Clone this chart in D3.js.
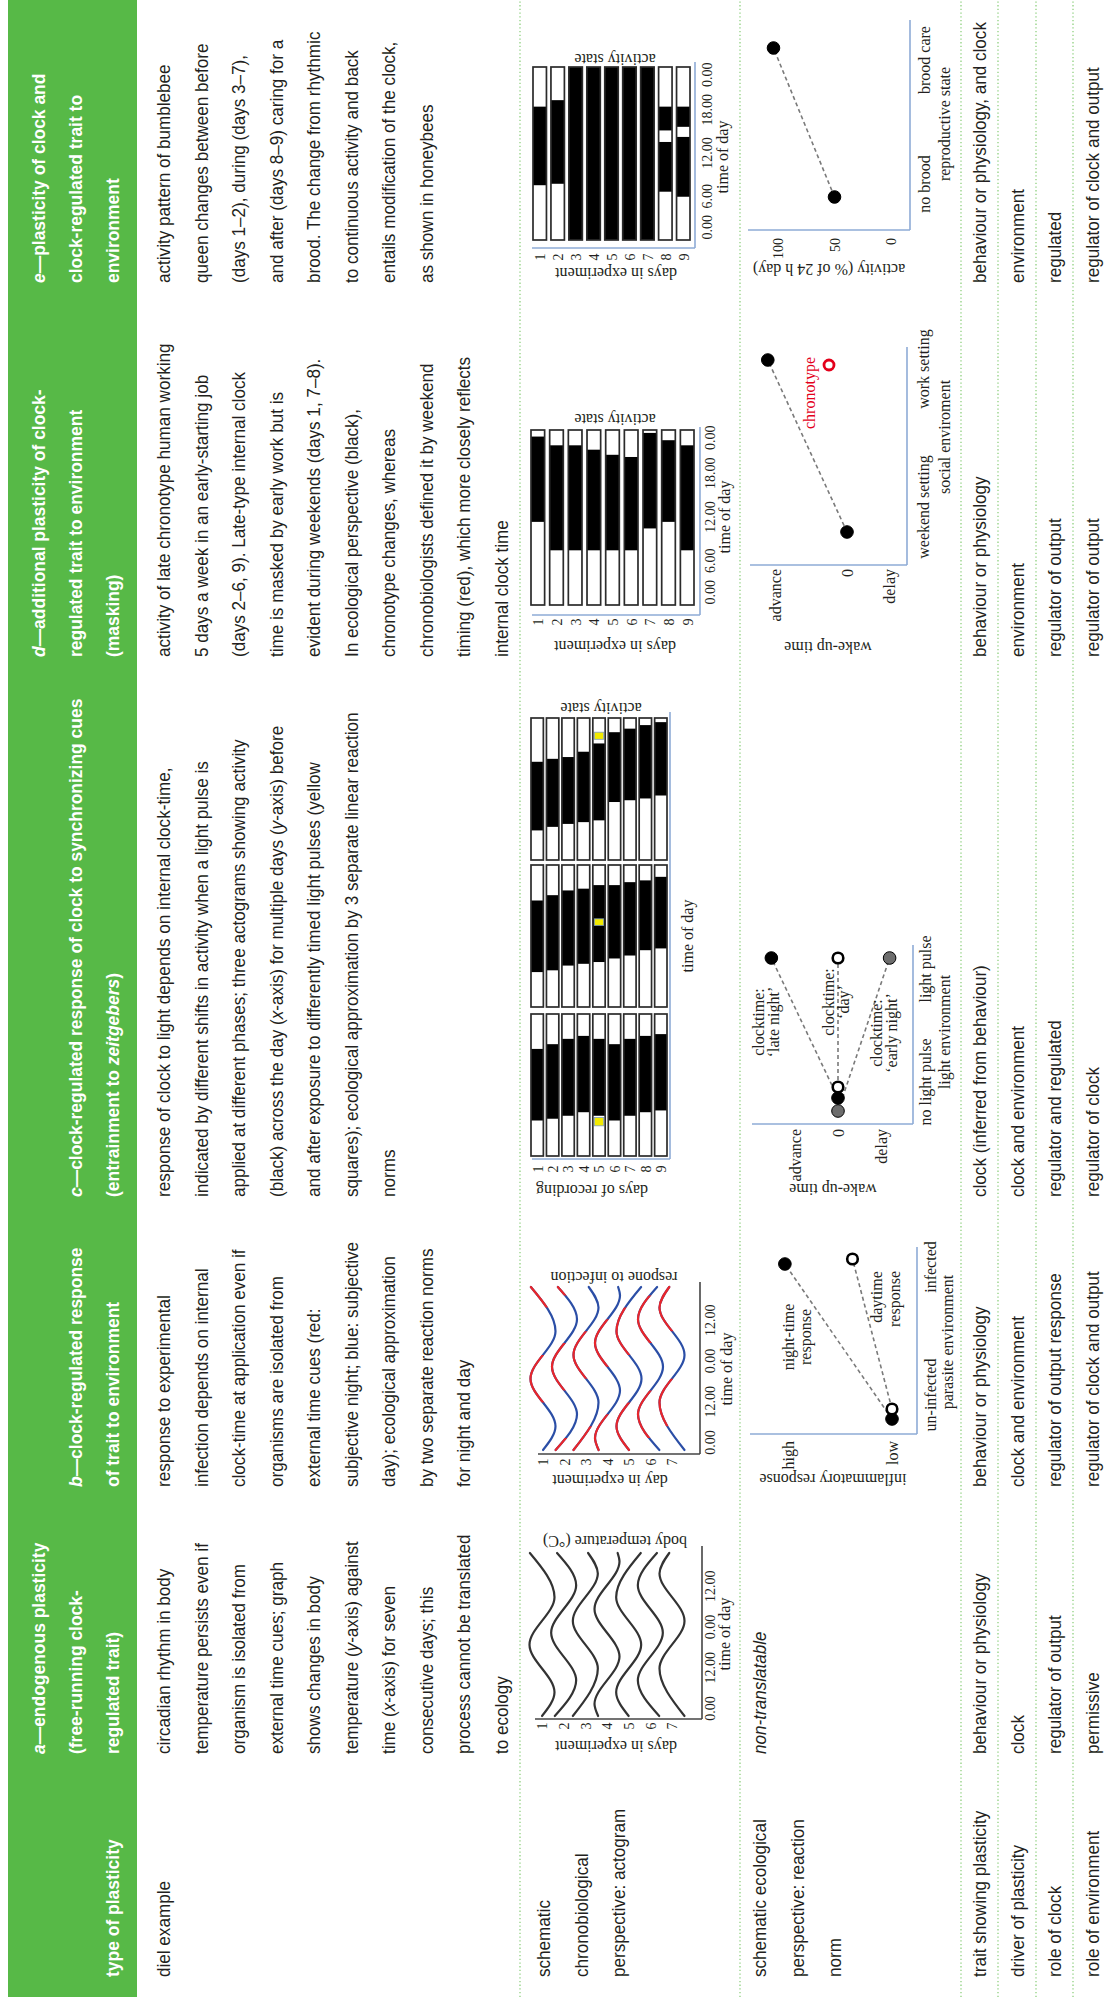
<!DOCTYPE html>
<html>
<head>
<meta charset="utf-8">
<script src="https://cdn.jsdelivr.net/npm/d3@7"></script>
<style>
  body { margin: 0; background: #fff; }
  svg { display: block; }
  .tx { font-family: "Liberation Sans", Arial, sans-serif; font-size: 18px; fill: #231f20; }
  .hd { font-family: "Liberation Sans", Arial, sans-serif; font-size: 18px; font-weight: bold; fill: #fff; }
  .ch text { font-family: "Liberation Serif", serif; font-size: 16px; fill: #231f20; }
</style>
</head>
<body>
<div id="chart"></div>
<script>
// ---- table text ----
var heads = [
  ['', '', 'type of plasticity'],
  ['*a*—endogenous plasticity', '(free-running clock-', 'regulated trait)'],
  ['', '*b*—clock-regulated response', 'of trait to environment'],
  ['', '*c*—clock-regulated response of clock to synchronizing cues', '(entrainment to *zeitgebers*)'],
  ['*d*—additional plasticity of clock-', 'regulated trait to environment', '(masking)'],
  ['*e*—plasticity of clock and', 'clock-regulated trait to', 'environment']
];
var dielText = [
  ['diel example'],
  ['circadian rhythm in body', 'temperature persists even if', 'organism is isolated from', 'external time cues; graph',
   'shows changes in body', 'temperature (*y*-axis) against', 'time (*x*-axis) for seven', 'consecutive days; this',
   'process cannot be translated', 'to ecology'],
  ['response to experimental', 'infection depends on internal', 'clock-time at application even if',
   'organisms are isolated from', 'external time cues (red:', 'subjective night; blue: subjective',
   'day); ecological approximation', 'by two separate reaction norms', 'for night and day'],
  ['response of clock to light depends on internal clock-time,',
   'indicated by different shifts in activity when a light pulse is',
   'applied at different phases; three actograms showing activity',
   '(black) across the day (*x*-axis) for multiple days (*y*-axis) before',
   'and after exposure to differently timed light pulses (yellow',
   'squares); ecological approximation by 3 separate linear reaction', 'norms'],
  ['activity of late chronotype human working', '5 days a week in an early-starting job',
   '(days 2–6, 9). Late-type internal clock', 'time is masked by early work but is',
   'evident during weekends (days 1, 7–8).', 'In ecological perspective (black),',
   'chronotype changes, whereas', 'chronobiologists defined it by weekend',
   'timing (red), which more closely reflects', 'internal clock time'],
  ['activity pattern of bumblebee', 'queen changes between before', '(days 1–2), during (days 3–7),',
   'and after (days 8–9) caring for a', 'brood. The change from rhythmic', 'to continuous activity and back',
   'entails modification of the clock,', 'as shown in honeybees']
];
var actoLabel = ['schematic', 'chronobiological', 'perspective: actogram'];
var normLabel = ['schematic ecological', 'perspective: reaction', 'norm'];
var normA = '*non-translatable*';
var traitRows = [
  ['trait showing plasticity', 'behaviour or physiology', 'behaviour or physiology', 'clock (inferred from behaviour)', 'behaviour or physiology', 'behaviour or physiology, and clock'],
  ['driver of plasticity', 'clock', 'clock and environment', 'clock and environment', 'environment', 'environment'],
  ['role of clock', 'regulator of output', 'regulator of output response', 'regulator and regulated', 'regulator of output', 'regulated'],
  ['role of environment', 'permissive', 'regulator of clock and output', 'regulator of clock', 'regulator of output', 'regulator of clock and output']
];

// ---- actogram data (hours) ----
var days7 = [1, 2, 3, 4, 5, 6, 7];
var days9 = [1, 2, 3, 4, 5, 6, 7, 8, 9];
var timeTicks48 = [0, 12, 24, 36];
var timeLabels48 = ['0.00', '12.00', '0.00', '12.00'];
var timeTicks24 = [0, 6, 12, 18, 24];
var timeLabels24 = ['0.00', '6.00', '12.00', '18.00', '0.00'];

// body temperature: turning points [hour, level] per day
var tempWaves = [
  [[0, 0], [7, -1], [21, 1], [35, -1], [48, 0.97]],
  [[0, 0.71], [10.5, -1], [24.5, 1], [38.5, -1], [48, 0.53]],
  [[0, 1], [14, -1], [28, 1], [42, -1], [48, -0.22]],
  [[0, 0.71], [3.5, 1], [17.5, -1], [31.5, 1], [45.5, -1], [48, -0.85]],
  [[0, 0], [7, 1], [21, -1], [35, 1], [48, -0.97]],
  [[0, -0.71], [10.5, 1], [24.5, -1], [38.5, 1], [48, -0.53]],
  [[0, -1], [14, 1], [28, -1], [42, 1], [48, 0.22]]
];
// response to infection: turning points, and spans drawn red (subjective night)
var infectWaves = [
  [[0, 0], [7, -1], [21, 1], [35, -1], [48, 0.97]],
  [[0, 0.71], [10.5, -1], [24.5, 1], [38.5, -1], [48, 0.53]],
  [[0, 1], [14, -1], [28, 1], [42, -1], [48, -0.22]],
  [[0, 0.71], [3.5, 1], [17.5, -1], [31.5, 1], [45.5, -1], [48, -0.85]],
  [[0, 0], [7, 1], [21, -1], [35, 1], [48, -0.97]],
  [[0, -0.71], [10.5, 1], [24.5, -1], [38.5, 1], [48, -0.53]],
  [[0, -1], [14, 1], [28, -1], [42, 1], [48, 0.22]]
];
var infectRed = [
  [[14, 28], [42, 48]],
  [[0, 3.5], [17.5, 31.5], [45.5, 48]],
  [[0, 7], [21, 35]],
  [[0, 10.5], [24.5, 38.5]],
  [[0, 14], [28, 42]],
  [[3.5, 17.5], [31.5, 45.5]],
  [[7, 21], [35, 48]]
];
// entrainment: three panels, activity on/off per day, light pulse on day 5
var entOn = [
  [6.0, 6.3, 6.8, 7.4, 6.8, 6.0, 6.8, 7.4, 7.7],
  [5.9, 6.2, 7.0, 7.3, 7.6, 8.2, 8.7, 9.6, 9.9],
  [5.0, 5.6, 6.1, 6.4, 6.7, 9.8, 10.1, 10.4, 10.9]
];
var entOff = [
  [18.1, 18.9, 19.8, 20.3, 19.8, 18.9, 19.8, 20.3, 20.6],
  [18.0, 18.9, 19.7, 20.0, 20.6, 20.6, 21.1, 21.4, 22.0],
  [16.6, 17.1, 17.4, 18.3, 19.7, 21.6, 22.2, 22.8, 23.3]
];
var entPulse = [[5.1, 6.5], [13.8, 14.9], [20.4, 21.6]];
var pulseDay = 5;
// human worker
var humanOn = [11.4, 7.5, 7.5, 7.5, 7.5, 7.5, 10.5, 11.4, 7.5];
var humanOff = [23.1, 21.9, 21.9, 21.3, 20.6, 20.3, 23.6, 22.6, 21.9];
// bumblebee queen: active spans per day
var beeActive = [
  [[7.6, 18.5]], [[7.8, 19.4]], [[0, 24]], [[0, 24]], [[0, 24]], [[0, 24]], [[0, 24]],
  [[6.7, 13.6], [15.2, 18.5]], [[6.0, 14.3], [15.7, 18.5]]
];

// ---- reaction norm data ----
var infectEnv = ['un-infected', 'infected'];
var nightResp = [0, 1.03];
var dayResp = [0, 0.38];
var lightEnv = ['no light pulse', 'light pulse'];
var lateNightShift = [0, 1.55];
var dayShift = [0, 0];
var earlyNightShift = [0, -1.2];
var socialEnv = ['weekend setting', 'work setting'];
var wakeUpShift = [0, 1.1];
var chronoShift = 0.25;
var broodEnv = ['no brood', 'brood care'];
var beeActivity = [50, 104];

// ---- page ----
var green = '#57b947';
var dotGreen = '#8fd07f';
var axisBlue = '#8eabd6';
var colX = [30, 253, 520, 810, 1350, 1724];
var headBase = [45, 82, 119];
var gap = 37.5;
var rowLines = [520, 740, 961, 998, 1036, 1073];

var svg = d3.select('#chart').append('svg')
  .attr('width', 1104)
  .attr('height', 2007);
var defs = svg.append('defs');
// the table is laid out landscape, then turned a quarter to the left
var g = svg.append('g').attr('transform', 'translate(0,2007) rotate(-90)');

function rich(sel, str) {
  str.split('*').forEach(function(part, i) {
    if (!part) return;
    sel.append('tspan').attr('font-style', i % 2 ? 'italic' : null).text(part);
  });
  return sel;
}
function put(s, x, y, cls, sx) {
  return rich(g.append('text').attr('class', cls)
    .attr('transform', 'translate(' + x + ',' + y + ') scale(' + sx + ',1)'), s);
}
function lines(arr, x, y0) {
  arr.forEach(function(s, i) { put(s, x, y0 + i * gap, 'tx', 0.95); });
}

g.append('rect').attr('x', 10).attr('y', 8).attr('width', 1997).attr('height', 129).attr('fill', green);
heads.forEach(function(h, c) {
  h.forEach(function(s, r) { if (s) put(s, colX[c], headBase[r], 'hd', 0.97); });
});

g.selectAll('line.sep').data(rowLines).enter().append('line')
  .attr('class', 'sep')
  .attr('x1', 10).attr('x2', 2007)
  .attr('y1', function(d) { return d; }).attr('y2', function(d) { return d; })
  .attr('stroke', dotGreen).attr('stroke-width', 1.3).attr('stroke-dasharray', '1.3,2.4');

dielText.forEach(function(p, c) { lines(p, colX[c], 170); });
lines(actoLabel, colX[0], 550);
lines(normLabel, colX[0], 766);
lines([normA], colX[1], 766);
traitRows.forEach(function(row, r) {
  row.forEach(function(s, c) { lines([s], colX[c], 986 + r * gap); });
});

// ---- chart helpers ----
function vtext(grp, s, x, y) {
  return grp.append('text').attr('transform', 'translate(' + x + ',' + y + ') rotate(-90)')
    .attr('text-anchor', 'middle').text(s);
}
function hline(grp, x1, x2, y, col) {
  grp.append('line').attr('x1', x1).attr('x2', x2).attr('y1', y).attr('y2', y)
    .attr('stroke', col).attr('stroke-width', 1.6);
}
function vline(grp, x, y1, y2, col) {
  grp.append('line').attr('x1', x).attr('x2', x).attr('y1', y1).attr('y2', y2)
    .attr('stroke', col).attr('stroke-width', 1.6);
}
function timeAxis(grp, x, ticks, labels, y) {
  var ax = grp.append('g').attr('transform', 'translate(0,' + y + ')')
    .call(d3.axisBottom(x).tickValues(ticks).tickSize(0).tickPadding(0)
      .tickFormat(function(d, i) { return labels[i]; }));
  ax.select('.domain').remove();
  ax.selectAll('text').attr('dy', 0).attr('fill', '#231f20')
    .style('font-size', '14px').style('font-family', 'Liberation Serif');
  return ax;
}
function dayAxis(grp, y, x) {
  var ax = grp.append('g').attr('transform', 'translate(' + x + ',0)')
    .call(d3.axisLeft(y).tickSize(0).tickPadding(0));
  ax.select('.domain').remove();
  ax.selectAll('text').attr('text-anchor', 'middle').attr('dy', '0.35em').attr('fill', '#231f20')
    .style('font-size', '14px').style('font-family', 'Liberation Serif');
}
function waves(grp, x, y, data, amp, col) {
  var line = d3.line().curve(d3.curveMonotoneX);
  return data.map(function(pts, i) {
    var d = y.domain()[i];
    var path = line(pts.map(function(p) { return [x(p[0]), y(d) - p[1] * amp]; }));
    grp.append('path').attr('d', path).attr('fill', 'none').attr('stroke', col)
      .attr('stroke-width', 2.2).attr('stroke-linecap', 'round');
    return path;
  });
}
function bars(grp, x, y, spans, pulse) {
  var days = y.domain();
  grp.selectAll(null).data(days).enter().append('rect')
    .attr('x', x(0)).attr('width', x(24) - x(0))
    .attr('y', function(d) { return y(d); }).attr('height', y.bandwidth())
    .attr('fill', '#fff');
  days.forEach(function(d, i) {
    grp.selectAll(null).data(spans[i]).enter().append('rect')
      .attr('x', function(s) { return x(s[0]); })
      .attr('width', function(s) { return x(s[1]) - x(s[0]); })
      .attr('y', y(d)).attr('height', y.bandwidth()).attr('fill', '#000');
  });
  if (pulse) {
    grp.append('rect').attr('x', x(pulse[0])).attr('width', x(pulse[1]) - x(pulse[0]))
      .attr('y', y(pulseDay) + 1.5).attr('height', y.bandwidth() - 3)
      .attr('fill', '#f2ea00').attr('stroke', '#7f9fbf').attr('stroke-width', 0.8);
  }
  grp.selectAll(null).data(days).enter().append('rect')
    .attr('x', x(0)).attr('width', x(24) - x(0))
    .attr('y', function(d) { return y(d); }).attr('height', y.bandwidth())
    .attr('fill', 'none').attr('stroke', '#2b2b2b').attr('stroke-width', 1.7);
}
function dot(grp, cx, cy, fill, stroke) {
  grp.append('circle').attr('cx', cx).attr('cy', cy).attr('r', fill === '#fff' ? 5.3 : 6.3)
    .attr('fill', fill).attr('stroke', stroke || '#000').attr('stroke-width', fill === '#fff' ? 2.6 : 1);
}
function dash(grp, x1, y1, x2, y2) {
  grp.append('line').attr('x1', x1).attr('y1', y1).attr('x2', x2).attr('y2', y2)
    .attr('stroke', '#7a7a7a').attr('stroke-width', 1.6).attr('stroke-dasharray', '4,3');
}
function normAxis(grp, y, ticks, labels, x, size) {
  var ax = grp.append('g').attr('transform', 'translate(' + x + ',0)')
    .call(d3.axisLeft(y).tickValues(ticks).tickSize(0).tickPadding(0)
      .tickFormat(function(d, i) { return labels[i]; }));
  ax.select('.domain').remove();
  ax.selectAll('text').attr('dy', '0.35em').attr('fill', '#231f20')
    .style('font-size', (size || 16) + 'px').style('font-family', 'Liberation Serif');
}
function catLabels(grp, x, cats, y) {
  grp.selectAll(null).data(cats).enter().append('text')
    .attr('x', function(d) { return x(d); }).attr('y', y)
    .attr('text-anchor', 'middle').text(function(d) { return d; });
}
function endAnchors(ax) {
  ax.selectAll('text').attr('text-anchor', function(d, i, n) {
    return i === 0 ? 'start' : i === n.length - 1 ? 'end' : 'middle';
  }).attr('dx', function(d, i, n) { return i === n.length - 1 ? 4 : 0; });
}

// ---- a: free-running body temperature ----
var gA = g.append('g').attr('class', 'ch');
var xA = d3.scaleLinear().domain([0, 48]).range([291, 454]);
var yA = d3.scalePoint().domain(days7).range([542, 672]);
waves(gA, xA, yA, tempWaves, 12.5, '#333');
vline(gA, 288, 535, 702, '#444');
hline(gA, 288, 461, 702, '#444');
dayAxis(gA, yA, 281);
timeAxis(gA, xA, timeTicks48, timeLabels48, 715).selectAll('text').attr('dx', 7);
gA.append('text').attr('x', 373).attr('y', 730).attr('text-anchor', 'middle').text('time of day');
vtext(gA, 'days in experiment', 266, 616);
vtext(gA, 'body temperature (°C)', 471, 615);

// ---- b: response to infection ----
var gB = g.append('g').attr('class', 'ch');
var xB = d3.scaleLinear().domain([0, 48]).range([557, 720]);
var yB = d3.scalePoint().domain(days7).range([543, 672]);
var bPaths = waves(gB, xB, yB, infectWaves, 12.5, '#2b4ea6');
bPaths.forEach(function(p, i) {
  var id = 'redclip' + i;
  var cp = defs.append('clipPath').attr('id', id);
  infectRed[i].forEach(function(s) {
    cp.append('rect').attr('x', xB(s[0]) - (s[0] === 0 ? 4 : 0))
      .attr('width', xB(s[1]) - xB(s[0]) + (s[0] === 0 ? 4 : 0) + (s[1] === 48 ? 4 : 0))
      .attr('y', yB(days7[i]) - 16).attr('height', 32);
  });
  gB.append('path').attr('d', p).attr('fill', 'none').attr('stroke', '#e8262b')
    .attr('stroke-width', 2.2).attr('stroke-linecap', 'round').attr('clip-path', 'url(#' + id + ')');
});
vline(gB, 553, 538, 700, '#444');
hline(gB, 553, 725, 700, '#444');
dayAxis(gB, yB, 545);
timeAxis(gB, xB, timeTicks48, timeLabels48, 715).selectAll('text').attr('dx', 7);
gB.append('text').attr('x', 638).attr('y', 732).attr('text-anchor', 'middle').text('time of day');
vtext(gB, 'day in experiment', 532, 610);
vtext(gB, 'respone to infection', 735, 614);

// ---- c: entrainment actograms ----
var gC = g.append('g').attr('class', 'ch');
var yC = d3.scaleBand().domain(days9).range([531, 667]).paddingInner(0.2);
var cStarts = [851, 1000, 1147];
cStarts.forEach(function(x0, k) {
  var xC = d3.scaleLinear().domain([0, 24]).range([x0, x0 + 142]);
  var spans = days9.map(function(d, i) { return [[entOn[k][i], entOff[k][i]]]; });
  bars(gC, xC, yC, spans, entPulse[k]);
});
vline(gC, 848, 532, 670, axisBlue);
hline(gC, 848, 1295, 670, axisBlue);
dayAxis(gC, d3.scalePoint().domain(days9).range([yC(1) + yC.bandwidth() / 2, yC(9) + yC.bandwidth() / 2]), 838);
gC.append('text').attr('x', 1071).attr('y', 693).attr('text-anchor', 'middle').text('time of day');
vtext(gC, 'days of recording', 822, 592);
vtext(gC, 'activity state', 1304, 601);

// ---- d: human worker actogram ----
var gD = g.append('g').attr('class', 'ch');
var xD = d3.scaleLinear().domain([0, 24]).range([1402, 1577]);
var yD = d3.scaleBand().domain(days9).range([531, 694]).paddingInner(0.27);
bars(gD, xD, yD, days9.map(function(d, i) { return [[humanOn[i], humanOff[i]]]; }), null);
vline(gD, 1392, 532, 700, axisBlue);
hline(gD, 1392, 1580, 700, axisBlue);
dayAxis(gD, d3.scalePoint().domain(days9).range([yD(1) + yD.bandwidth() / 2, yD(9) + yD.bandwidth() / 2]), 1385);
endAnchors(timeAxis(gD, xD, timeTicks24, timeLabels24, 715));
gD.append('text').attr('x', 1490).attr('y', 730).attr('text-anchor', 'middle').text('time of day');
vtext(gD, 'days in experiment', 1366, 615);
vtext(gD, 'activity state', 1593, 615);

// ---- e: bumblebee actogram ----
var gE = g.append('g').attr('class', 'ch');
var xE = d3.scaleLinear().domain([0, 24]).range([1767, 1940]);
var yE = d3.scaleBand().domain(days9).range([533, 690]).paddingInner(0.25);
bars(gE, xE, yE, beeActive, null);
vline(gE, 1759, 532, 695, axisBlue);
hline(gE, 1759, 1945, 695, axisBlue);
dayAxis(gE, d3.scalePoint().domain(days9).range([yE(1) + yE.bandwidth() / 2, yE(9) + yE.bandwidth() / 2]), 1750);
endAnchors(timeAxis(gE, xE, timeTicks24, timeLabels24, 712));
gE.append('text').attr('x', 1850).attr('y', 728).attr('text-anchor', 'middle').text('time of day');
vtext(gE, 'days in experiment', 1739, 616);
vtext(gE, 'activity state', 1953, 615);

// ---- b: reaction norm ----
var nB = g.append('g').attr('class', 'ch');
var xnB = d3.scalePoint().domain(infectEnv).range([593, 745]);
var ynB = d3.scaleLinear().domain([0, 1]).range([892, 788]);
vline(nB, 573, 750, 917, axisBlue);
hline(nB, 573, 760, 917, axisBlue);
dash(nB, xnB(infectEnv[0]) - 5, ynB(nightResp[0]), xnB(infectEnv[1]) - 2, ynB(nightResp[1]));
dash(nB, xnB(infectEnv[0]) + 5, ynB(dayResp[0]), xnB(infectEnv[1]) + 3, ynB(dayResp[1]));
dot(nB, xnB(infectEnv[0]) - 5, ynB(nightResp[0]), '#000');
dot(nB, xnB(infectEnv[0]) + 5, ynB(dayResp[0]), '#fff');
dot(nB, xnB(infectEnv[1]) - 2, ynB(nightResp[1]), '#000');
dot(nB, xnB(infectEnv[1]) + 3, ynB(dayResp[1]), '#fff');
normAxis(nB, ynB, [1, 0], ['high', 'low'], 566);
catLabels(nB, d3.scalePoint().domain(infectEnv).range([612, 740]), infectEnv, 936);
nB.append('text').attr('x', 665).attr('y', 953).attr('text-anchor', 'middle').text('parasite environment');
nB.append('text').attr('x', 670).attr('y', 794).attr('text-anchor', 'middle').text('night-time');
nB.append('text').attr('x', 670).attr('y', 811).attr('text-anchor', 'middle').text('response');
nB.append('text').attr('x', 710).attr('y', 882).attr('text-anchor', 'middle').text('daytime');
nB.append('text').attr('x', 708).attr('y', 900).attr('text-anchor', 'middle').text('response');
vtext(nB, 'inflammatory response', 533, 833);

// ---- c: reaction norm ----
var nC = g.append('g').attr('class', 'ch');
var xnC = d3.scalePoint().domain(lightEnv).range([909, 1049]);
var ynC = d3.scaleLinear().domain([-1, 1]).range([881, 795]);
vline(nC, 883, 752, 913, axisBlue);
hline(nC, 883, 1062, 913, axisBlue);
var cSeries = [
  { v: earlyNightShift, fill: '#6d6d6d', dx: -13, name: ['clocktime:', '‘early night’'], lx: 974, ly: 882 },
  { v: lateNightShift, fill: '#000', dx: 0, name: ['clocktime:', '‘late night’'], lx: 985, ly: 764 },
  { v: dayShift, fill: '#fff', dx: 11, name: ['clocktime:', '‘day’'], lx: 1005, ly: 834 }
];
cSeries.forEach(function(s) {
  dash(nC, xnC(lightEnv[0]) + s.dx, ynC(s.v[0]), xnC(lightEnv[1]), ynC(s.v[1]));
});
cSeries.forEach(function(s) {
  dot(nC, xnC(lightEnv[0]) + s.dx, ynC(s.v[0]), s.fill);
  dot(nC, xnC(lightEnv[1]), ynC(s.v[1]), s.fill);
  nC.append('text').attr('x', s.lx).attr('y', s.ly).attr('text-anchor', 'middle').text(s.name[0]);
  nC.append('text').attr('x', s.lx).attr('y', s.ly + 15).attr('text-anchor', 'middle').text(s.name[1]);
});
normAxis(nC, ynC, [1, 0, -1], ['advance', '0', 'delay'], 878);
catLabels(nC, d3.scalePoint().domain(lightEnv).range([925, 1038]), lightEnv, 931);
nC.append('text').attr('x', 975).attr('y', 950).attr('text-anchor', 'middle').text('light environment');
vtext(nC, 'wake-up time', 823, 833);

// ---- d: reaction norm ----
var nD = g.append('g').attr('class', 'ch');
var xnD = d3.scalePoint().domain(socialEnv).range([1475, 1647]);
var ynD = d3.scaleLinear().domain([0, 1]).range([847, 775]);
vline(nD, 1442, 750, 907, axisBlue);
hline(nD, 1442, 1660, 907, axisBlue);
dash(nD, xnD(socialEnv[0]), ynD(wakeUpShift[0]), xnD(socialEnv[1]), ynD(wakeUpShift[1]));
dot(nD, xnD(socialEnv[0]), ynD(wakeUpShift[0]), '#000');
dot(nD, xnD(socialEnv[1]), ynD(wakeUpShift[1]), '#000');
nD.append('circle').attr('cx', xnD(socialEnv[1]) - 5).attr('cy', ynD(chronoShift)).attr('r', 5)
  .attr('fill', '#fff').attr('stroke', '#e3001b').attr('stroke-width', 2.8);
nD.append('text').attr('x', xnD(socialEnv[1]) + 3).attr('y', 815).attr('text-anchor', 'end')
  .style('fill', '#e3001b').text('chronotype');
normAxis(nD, ynD, [1, 0, -0.58], ['advance', '0', 'delay'], 1438);
catLabels(nD, d3.scalePoint().domain(socialEnv).range([1500, 1638]), socialEnv, 929);
nD.append('text').attr('x', 1570).attr('y', 950).attr('text-anchor', 'middle').text('social enviroment');
vtext(nD, 'wake-up time', 1365, 828);

// ---- e: reaction norm ----
var nE = g.append('g').attr('class', 'ch');
var xnE = d3.scalePoint().domain(broodEnv).range([1810, 1959]);
var ynE = d3.scaleLinear().domain([0, 100]).range([891, 778]);
vline(nE, 1777, 748, 910, axisBlue);
hline(nE, 1777, 1987, 910, axisBlue);
dash(nE, xnE(broodEnv[0]), ynE(beeActivity[0]), xnE(broodEnv[1]), ynE(beeActivity[1]));
broodEnv.forEach(function(c, i) { dot(nE, xnE(c), ynE(beeActivity[i]), '#000'); });
normAxis(nE, ynE, [100, 50, 0], ['100', '50', '0'], 1769, 14);
catLabels(nE, d3.scalePoint().domain(broodEnv).range([1823, 1947]), broodEnv, 930);
nE.append('text').attr('x', 1883).attr('y', 950).attr('text-anchor', 'middle').text('reproductive state');
vtext(nE, 'activity (% of 24 h day)', 1743, 829);
</script>
</body>
</html>
